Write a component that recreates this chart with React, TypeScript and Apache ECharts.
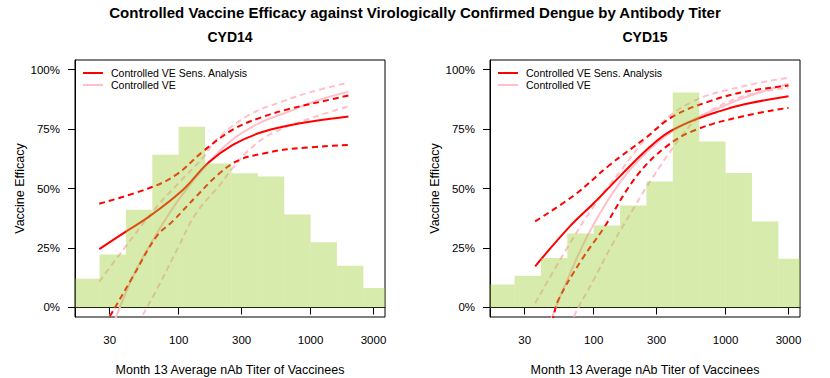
import React, { useEffect, useRef } from "react";
import * as echarts from "echarts";

// ---------- data ----------
const mainTitle = "Controlled Vaccine Efficacy against Virologically Confirmed Dengue by Antibody Titer";
const panelTitles = ["CYD14", "CYD15"];
const xAxisTitle = "Month 13 Average nAb Titer of Vaccinees";
const yAxisTitle = "Vaccine Efficacy";
const xTickTiters = [30, 100, 300, 1000, 3000];
const yTickValues = [0, 25, 50, 75, 100];
const legendNames = ["Controlled VE Sens. Analysis", "Controlled VE"];

// histogram bins (log10 titer edges) and bar heights (scaled to the VE axis, %)
const binLog10Edges = [1.2, 1.4, 1.6, 1.8, 2.0, 2.2, 2.4, 2.6, 2.8, 3.0, 3.2, 3.4, 3.6];
const hist14 = [12.1, 22.3, 41.1, 64.2, 76.0, 60.5, 56.4, 55.0, 39.1, 27.4, 17.5, 8.2];
const hist15 = [9.7, 13.3, 20.8, 31.1, 34.5, 42.9, 52.9, 90.3, 69.8, 56.5, 36.1, 20.5];

// curves: [titer, VE %]
const sensMid14 = [[25, 24.5], [40, 32], [60, 38.3], [108, 49.5], [167, 60.7], [259, 68.4], [413, 73.4], [698, 76.6], [1100, 78.5], [1936, 80.3]];
const sensUp14 = [[25, 43.6], [60, 50.2], [96, 55.8], [153, 65.6], [259, 74.8], [413, 79.7], [698, 83.5], [1200, 86.5], [1936, 89.1]];
const sensLo14 = [[25, -11], [29, -5.2], [45, 13], [68, 29.9], [91, 36.5], [136, 46.7], [205, 56.5], [291, 62.1], [438, 64.7], [698, 66.6], [1936, 68.3]];
const ve14 = [[31, -9], [45, 13], [64, 28.5], [100, 45.3], [167, 60.7], [259, 70.8], [413, 77.6], [698, 82.5], [1100, 86.8], [1936, 90.7]];
const veUp14 = [[25, 10.9], [38, 24.3], [64, 40.5], [100, 52.3], [153, 63], [194, 70.6], [347, 81.1], [621, 86.7], [1000, 90.5], [1936, 94.5]];
const veLo14 = [[50, -7], [52, -4.5], [68, 7.4], [100, 25.7], [136, 39.7], [205, 51.5], [260, 59], [347, 66.5], [492, 72.7], [1021, 79.7], [1936, 84.5]];

const sensMid15 = [[36, 17.3], [66, 34.1], [100, 43.8], [158, 55.1], [267, 67.5], [379, 74], [640, 79.7], [907, 82.5], [1365, 85.3], [3000, 88.8]];
const sensUp15 = [[36, 36.2], [72, 47.4], [133, 60], [244, 71], [403, 80.4], [762, 86.7], [1365, 90.5], [3000, 93.3]];
const sensLo15 = [[45, -10], [49, -4.5], [54, 3.2], [81, 20], [118, 33], [211, 55.1], [357, 67.7], [604, 74.8], [1365, 80.4], [3000, 83.9]];
const ve15 = [[44, -12], [48, -4.5], [68, 15.8], [100, 35], [163, 53.5], [255, 65.5], [379, 73.4], [640, 80.4], [907, 84], [1365, 88.1], [3000, 94]];
const veUp15 = [[36, 1.8], [64, 25.7], [100, 42.5], [163, 58], [265, 72.5], [537, 86], [1365, 93], [3000, 96.5]];
const veLo15 = [[65, -12], [70, -4.5], [100, 11.6], [136, 25.7], [205, 42.5], [275, 54], [464, 72], [640, 80], [1365, 88.8], [3000, 92.3]];

// ---------- styling ----------
const FONT = "Liberation Sans, Arial, Helvetica, sans-serif";
const RED = "#FF0000";
const PINK = "#FFC0CB";
const HIST_FILL = "rgba(154,205,50,0.4)";
const X_MIN = Math.log10(20) - 0.04 * Math.log10(150);
const X_MAX = Math.log10(3000) + 0.04 * Math.log10(150);

const toLog = (pts: number[][]) => pts.map(([t, v]) => [Math.log10(t), v]);

function buildOption() {
  const grids = [
    { left: 75, top: 60, width: 310, height: 257 },
    { left: 490, top: 60, width: 310, height: 257 },
  ];
  const panels = [
    { hist: hist14, sm: sensMid14, su: sensUp14, sl: sensLo14, v: ve14, vu: veUp14, vl: veLo14 },
    { hist: hist15, sm: sensMid15, su: sensUp15, sl: sensLo15, v: ve15, vu: veUp15, vl: veLo15 },
  ];
  const series: any[] = [];
  panels.forEach((p, i) => {
    const line = (name: string, data: number[][], color: string, dashed: boolean) => ({
      type: "line",
      name,
      xAxisIndex: i,
      yAxisIndex: i,
      data: toLog(data),
      symbol: "none",
      showSymbol: false,
      smooth: 0.4,
      clip: true,
      z: 2,
      lineStyle: { color, width: 2, type: dashed ? [6, 4] : "solid" },
      itemStyle: { color },
    });
    series.push(line(`VE upper ${panelTitles[i]}`, p.vu, PINK, true));
    series.push(line(`VE lower ${panelTitles[i]}`, p.vl, PINK, true));
    series.push(line(legendNames[1], p.v, PINK, false));
    series.push(line(`Sens upper ${panelTitles[i]}`, p.su, RED, true));
    series.push(line(`Sens lower ${panelTitles[i]}`, p.sl, RED, true));
    series.push(line(legendNames[0], p.sm, RED, false));
    series.push({
      type: "custom",
      name: `hist ${panelTitles[i]}`,
      xAxisIndex: i,
      yAxisIndex: i,
      z: 3,
      clip: true,
      data: p.hist.map((h, k) => [binLog10Edges[k], binLog10Edges[k + 1], h]),
      encode: { x: [0, 1], y: 2 },
      renderItem: (params: any, api: any) => {
        const a = api.coord([api.value(0), api.value(2)]);
        const b = api.coord([api.value(1), 0]);
        const cs = params.coordSys;
        const shape = echarts.graphic.clipRectByRect(
          { x: a[0], y: a[1], width: b[0] - a[0], height: b[1] - a[1] },
          { x: cs.x, y: cs.y, width: cs.width, height: cs.height }
        );
        if (!shape) return null;
        return { type: "rect", shape, style: { fill: HIST_FILL } };
      },
    });
  });

  const xAxes = grids.map((_, i) => ({
    type: "value",
    gridIndex: i,
    min: X_MIN,
    max: X_MAX,
    name: xAxisTitle,
    nameLocation: "middle",
    nameGap: 46,
    nameTextStyle: { fontFamily: FONT, fontSize: 12.5, color: "#000" },
    splitLine: { show: false },
    axisLine: { show: true, lineStyle: { color: "#000", width: 1 } },
    axisTick: { show: true, length: 7, customValues: xTickTiters.map((t) => Math.log10(t)), lineStyle: { color: "#000" } },
    axisLabel: {
      show: true,
      customValues: xTickTiters.map((t) => Math.log10(t)),
      formatter: (v: number) => String(Math.round(Math.pow(10, v))),
      margin: 17,
      fontFamily: FONT,
      fontSize: 11.5,
      color: "#000",
    },
  }));
  const yAxes = grids.map((_, i) => ({
    type: "value",
    gridIndex: i,
    min: -4,
    max: 104,
    name: yAxisTitle,
    nameLocation: "middle",
    nameRotate: 90,
    nameGap: 41,
    nameTextStyle: { fontFamily: FONT, fontSize: 12.5, color: "#000" },
    splitLine: { show: false },
    axisLine: { show: true, lineStyle: { color: "#000", width: 1 } },
    axisTick: { show: true, length: 7, customValues: yTickValues, lineStyle: { color: "#000" } },
    axisLabel: {
      show: true,
      customValues: yTickValues,
      formatter: (v: number) => `${v}%`,
      margin: 15,
      fontFamily: FONT,
      fontSize: 11.5,
      color: "#000",
    },
  }));

  const legends = grids.map((g) => ({
    orient: "vertical",
    left: g.left + 8,
    top: 67,
    padding: 0,
    itemGap: 0,
    itemWidth: 20,
    itemHeight: 2,
    icon: "rect",
    data: legendNames,
    textStyle: { fontFamily: FONT, fontSize: 10.5, color: "#000", padding: [0, 0, 0, 3], lineHeight: 12 },
    selectedMode: false,
  }));

  const titleStyle = (size: number) => ({ fontFamily: FONT, fontSize: size, fontWeight: "bold", color: "#000" });
  return {
    animation: false,
    backgroundColor: "#fff",
    title: [
      { text: mainTitle, left: 415, top: 5, padding: 0, textAlign: "center", textStyle: titleStyle(15) },
      { text: panelTitles[0], left: 230, top: 30, padding: 0, textAlign: "center", textStyle: titleStyle(14) },
      { text: panelTitles[1], left: 645, top: 30, padding: 0, textAlign: "center", textStyle: titleStyle(14) },
    ],
    grid: grids.map((g) => ({
      ...g,
      show: true,
      borderColor: "#000",
      borderWidth: 1,
      backgroundColor: "transparent",
      containLabel: false,
      outerBoundsMode: "none",
    })),
    xAxis: xAxes,
    yAxis: yAxes,
    legend: legends,
    series,
  };
}

export default function App() {
  const ref = useRef<HTMLDivElement>(null);
  useEffect(() => {
    if (!ref.current) return;
    const chart = echarts.init(ref.current, undefined, { renderer: "svg" });
    chart.setOption(buildOption() as any);
    return () => chart.dispose();
  }, []);
  return <div ref={ref} style={{ position: "fixed", left: 0, top: 0, width: 830, height: 378 }} />;
}
